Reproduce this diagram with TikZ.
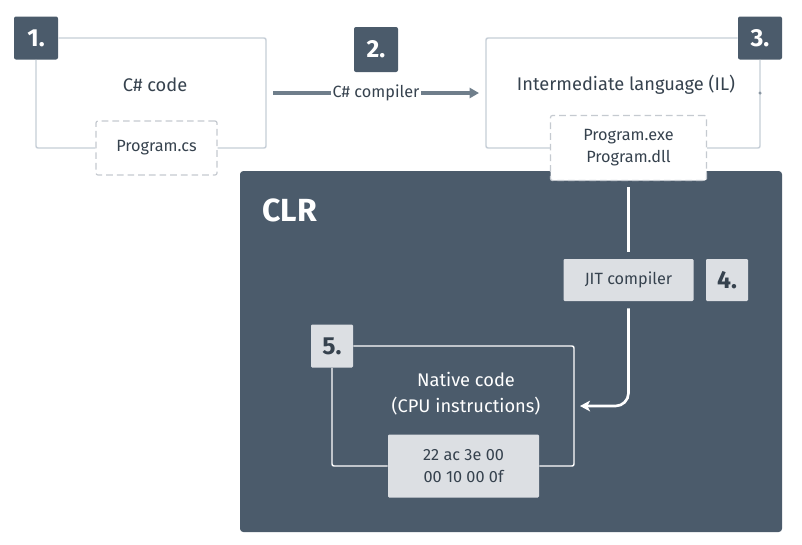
\documentclass[tikz,border=0pt]{standalone}
\usepackage{fontspec}
\setmainfont{Fira Sans}
\usetikzlibrary{arrows.meta}
\definecolor{slate}{HTML}{4B5B6B}
\definecolor{textdark}{HTML}{36424E}
\definecolor{framegray}{HTML}{C6CED7}
\definecolor{dashgray}{HTML}{C5CAD0}
\definecolor{lightfill}{HTML}{DCDFE3}
\definecolor{arrowgray}{HTML}{6F7E8B}
\definecolor{dotgray}{HTML}{8A96A2}
\tikzset{
  badge/.style={fill=slate, text=white, font=\bfseries\fontsize{18.5}{20}\selectfont,
    minimum width=33pt, minimum height=32.25pt, rounded corners=1.5pt, inner sep=0pt},
  lbadge/.style={badge, fill=lightfill, text=textdark, rounded corners=0.8pt},
  frame/.style={draw=framegray, line width=1.1pt, rounded corners=1.5pt},
  wframe/.style={draw=white, line width=1.1pt, rounded corners=1.5pt},
  dashbox/.style={draw=dashgray, dash pattern=on 5pt off 3pt, line width=0.9pt,
    fill=white, rounded corners=1.5pt, text=textdark, font=\smallfont, align=center, inner sep=0pt},
  graybox/.style={fill=lightfill, text=textdark, font=\smallfont, align=center, inner sep=0pt, rounded corners=0.8pt},
  bigtext/.style={text=textdark, font=\bigfont, align=center, inner sep=0pt},
  garrow/.style={draw=arrowgray, line width=2.6pt, -{Triangle[length=7pt,width=7.5pt]}},
  wline/.style={draw=white, line width=2pt},
}
\newcommand\smallfont{\fontsize{12.2}{16.5}\selectfont}
\newcommand\bigfont{\fontsize{13.7}{19.5}\selectfont}
\begin{document}
\begin{tikzpicture}[x=0.75pt,y=-0.75pt]
\useasboundingbox[fill=white] (0,0) rectangle (802,544);
% CLR panel
\node[fill=slate, rounded corners=2.5pt, minimum width=406.5pt, minimum height=270.75pt, inner sep=0pt] (clr) at (511,351.5) {};
\node[text=white, font=\bfseries\fontsize{24}{26}\selectfont, anchor=west, inner sep=0pt] (clrlabel) at (262,210) {CLR};
% badges
\node[badge] (b1) at (36,38) {1.};
\node[badge, minimum height=33.75pt] (b2) at (376,49.5) {2.};
\node[badge] (b3) at (760,38) {3.};
% dashed boxes
\node[dashbox, minimum width=90.75pt, minimum height=40.5pt] (p1) at (156.5,148) {Program.cs};
\node[dashbox, minimum width=117pt, minimum height=48.75pt] (p3) at (628.5,148) {Program.exe\\Program.dll};
% main texts
\node[bigtext] (t1) at (155,85) {C\# code};
\node[bigtext] (t3) at (626,85) {Intermediate language (IL)};
% frames
\draw[frame] (b1.east) -- (266,38) -- (266,148) -- (p1.east);
\draw[frame] (p1.west) -- (36,148) -- (b1.south);
\draw[frame] (b3.west) -- (486,38) -- (486,148) -- (p3.west);
\draw[frame] (p3.east) -- (760,148) -- (b3.south);
\fill[dotgray] (760,93) circle (1.3pt);
% compiler arrow
\coordinate (a1) at (273,93);
\coordinate (a2) at (479,93);
\draw[garrow] (a1) -- (a2) node[midway, fill=white, text=textdark, font=\smallfont, inner xsep=1.5pt, inner ysep=2pt] (cc) {C\# compiler};
% JIT
\node[graybox, minimum width=97.5pt, minimum height=31.5pt] (jit) at (628.5,280) {JIT compiler};
\node[lbadge, minimum width=31.5pt, minimum height=31.5pt] (b4) at (727,280) {4.};
\draw[wline, shorten <=4.5pt, shorten >=5.25pt] (p3.south) -- (jit.north);
% native code
\node[lbadge, minimum width=31.5pt, minimum height=32.25pt] (b5) at (332,346) {5.};
\node[graybox, minimum width=113.25pt, minimum height=47.25pt] (hex) at (463.5,466) {22 ac 3e 00\\00 10 00 0f};
\node[bigtext, text=white] (nat) at (466,394) {Native code\\(CPU instructions)};
\draw[wframe] (b5.east) -- (574,346) -- (574,466) -- (hex.east);
\draw[wframe] (hex.west) -- (332,466) -- (b5.south);
\coordinate (n5) at (580,406);
\draw[wline, rounded corners=9.75pt, shorten <=5.25pt, -{Stealth[length=7.5pt,width=8pt,inset=2pt]}] (jit.south) |- (n5);
\end{tikzpicture}
\end{document}
